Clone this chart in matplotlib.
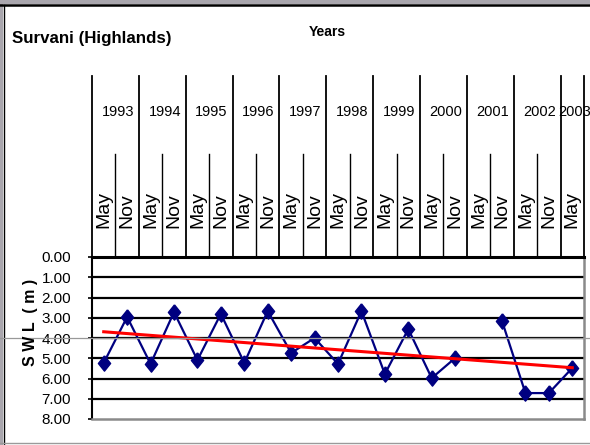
import numpy as np
import matplotlib
matplotlib.use("Agg")
import matplotlib.pyplot as plt
from matplotlib.lines import Line2D
from matplotlib.patches import Rectangle

# data
years = ['1993', '1994', '1995', '1996', '1997', '1998', '1999', '2000', '2001', '2002', '2003']
months = ['May', 'Nov'] * 10 + ['May']
swl = [5.23, 2.96, 5.28, 2.72, 5.09, 2.81, 5.23, 2.67, 4.74, 4.00,
       5.28, 2.67, 5.78, 3.56, 5.98, 4.99, np.nan, 3.16, 6.72, 6.72, 5.48]
yticks = [0, 1, 2, 3, 4, 5, 6, 7, 8]

W, H = 590, 445
plt.rcParams['font.family'] = ['Liberation Sans', 'DejaVu Sans']

fig = plt.figure(figsize=(W / 100, H / 100), dpi=100)
# plot area in pixels: left 92, right 584, top 257, bottom 419
L, R, T, B = 92, 584, 257, 419
ax = fig.add_axes([L / W, 1 - B / H, (R - L) / W, (B - T) / H])

x = np.arange(len(swl))
y = np.array(swl)
ax.plot(x, y, color='#000080', lw=1.6, zorder=3)
diamond = [(0, 1), (0.8, 0), (0, -1), (-0.8, 0), (0, 1)]
ax.plot(x, y, ls='none', marker=diamond, ms=11, color='#000080', zorder=4)

# linear trend over the available points
ok = ~np.isnan(y)
k, b = np.polyfit(x[ok], y[ok], 1)
ax.plot([x[0], x[-1]], [k * x[0] + b, k * x[-1] + b], color='red', lw=2.2, zorder=5)

ax.set_xlim(-0.5, len(swl) - 0.5)
ax.set_ylim(8, 0)
for g in yticks[1:-1]:
    ax.axhline(g, color='black', lw=1.6, zorder=1)
ax.set_yticks(yticks)
ax.set_yticklabels(['%.2f' % v for v in yticks], fontsize=11)
ax.tick_params(axis='y', direction='out', length=3, width=1.2, pad=12)
ax.set_xticks([])
ax.spines['top'].set_linewidth(2.2)
ax.spines['left'].set_linewidth(1.5)
ax.spines['right'].set_color('#8a8a8a')
ax.spines['bottom'].set_color('#8a8a8a')
ax.spines['right'].set_linewidth(1.8)
ax.spines['bottom'].set_linewidth(1.8)

# header table above the plot
tr = ax.get_xaxis_transform()
def ya(py):
    return (B - py) / (B - T)

bounds = list(np.arange(-0.5, len(swl) - 1, 2)) + [len(swl) - 0.5]
for xb in bounds:
    ax.add_line(Line2D([xb, xb], [1, ya(76)], transform=tr, color='black', lw=1.3, clip_on=False))
for i in range(0, len(swl) - 1, 2):
    ax.add_line(Line2D([i + 0.5, i + 0.5], [1, ya(154)], transform=tr, color='black', lw=1.0, clip_on=False))

for j, yr in enumerate(years):
    xc = 2 * j + 0.5 if j < len(years) - 1 else len(swl) - 1
    ax.text(xc + 0.1, ya(112), yr, transform=tr, ha='center', va='center',
            fontsize=10.5, clip_on=False)
for i, m in enumerate(months):
    ax.text(i, ya(228), m, transform=tr, ha='center', va='bottom', rotation=90,
            fontsize=14, clip_on=False)

fig.text(12 / W, 1 - 38 / H, 'Survani (Highlands)', ha='left', va='center',
         fontsize=12.2, fontweight='bold')
fig.text(327 / W, 1 - 32 / H, 'Years', ha='center', va='center',
         fontsize=10, fontweight='bold')
fig.text(31 / W, 1 - 322 / H, 'S W L  ( m )', ha='center', va='center', rotation=90,
         fontsize=11.5, fontweight='bold')

# frame of the pasted picture
fig.add_artist(Rectangle((0, 1 - 4 / H), 1, 4 / H, transform=fig.transFigure, color='#a9a6ad', lw=0))
fig.add_artist(Rectangle((0, 0), 3 / W, 1, transform=fig.transFigure, color='#a9a6ad', lw=0))
fig.add_artist(Line2D([0, 1], [1 - 5 / H, 1 - 5 / H], transform=fig.transFigure, color='black', lw=1.8))
fig.add_artist(Line2D([3.5 / W, 3.5 / W], [0, 1 - 5 / H], transform=fig.transFigure, color='black', lw=1.0))
fig.add_artist(Line2D([0, 1], [2 / H, 2 / H], transform=fig.transFigure, color='#9a9a9a', lw=1.0))
fig.add_artist(Line2D([0, 1], [1 - 338 / H, 1 - 338 / H], transform=fig.transFigure, color='#999999', lw=0.9))

fig.savefig('out.png', dpi=100)
